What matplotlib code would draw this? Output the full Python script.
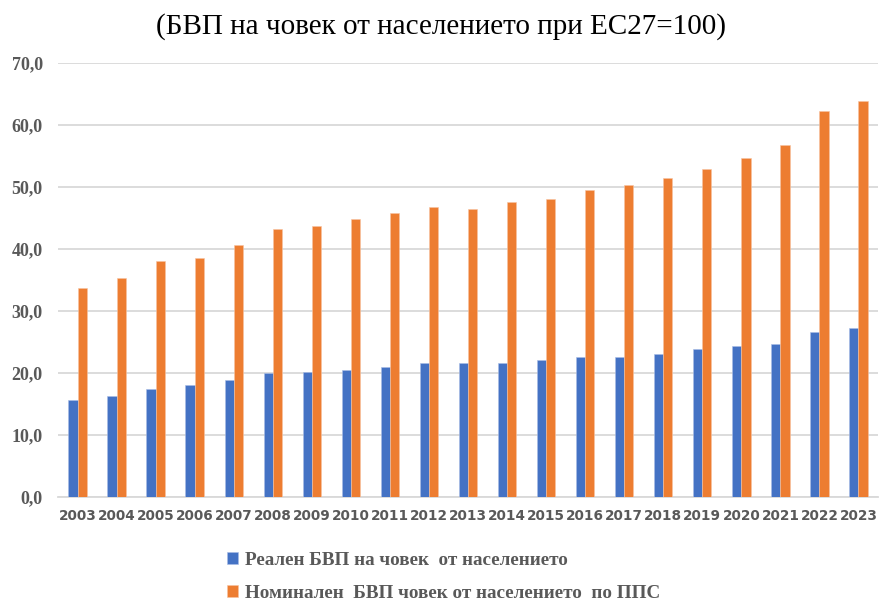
import numpy as np
import matplotlib.pyplot as plt

years = [str(y) for y in range(2003, 2024)]
real_gdp = [15.6, 16.3, 17.3, 18.0, 18.8, 20.0, 20.1, 20.4, 21.0, 21.5, 21.5,
            21.5, 22.0, 22.5, 22.5, 23.0, 23.8, 24.3, 24.7, 26.5, 27.2]
nominal_pps = [33.6, 35.2, 38.0, 38.5, 40.6, 43.2, 43.7, 44.8, 45.7, 46.7, 46.4,
               47.5, 48.0, 49.4, 50.2, 51.4, 52.9, 54.6, 56.7, 62.2, 63.9]
labels = ["Реален БВП на човек  от населението",
          "Номинален  БВП човек от населението  по ППС"]

blue = "#4472C4"
orange = "#ED7D31"
gray = "#595959"
serif = "Liberation Serif"

fig = plt.figure(figsize=(8.81, 6.05), dpi=100)
ax = fig.add_axes([58 / 881, 1 - 496.7 / 605, 820 / 881, (496.7 - 62.7) / 605])

x = np.arange(len(years))
w = 0.235
ax.bar(x - w / 2, real_gdp, w, color=blue, edgecolor="#a9bde6", linewidth=0.4,
       label=labels[0], zorder=3)
ax.bar(x + w / 2, nominal_pps, w, color=orange, edgecolor="#f7c4a2", linewidth=0.4,
       label=labels[1], zorder=3)

ax.set_ylim(0, 70)
ax.set_xlim(-0.5, len(years) - 0.5)
ax.set_yticks(np.arange(0, 71, 10))
ax.set_yticklabels([f"{v:.1f}".replace(".", ",") for v in np.arange(0, 71, 10)],
                   fontfamily=serif, fontweight="bold", fontsize=13, color=gray)
ax.set_xticks(x)
ax.set_xticklabels(years, fontfamily="DejaVu Sans", fontweight="bold",
                   fontsize=9.8, color=gray)
ax.tick_params(axis="both", length=0)
ax.tick_params(axis="y", pad=11)
ax.tick_params(axis="x", pad=9)

ax.grid(axis="y", color="#d9d9d9", linewidth=1.3, zorder=0)
for s in ["top", "right", "left"]:
    ax.spines[s].set_visible(False)
ax.spines["bottom"].set_color("#d9d9d9")
ax.spines["bottom"].set_linewidth(1.3)

fig.text(0.5, 1 - 27 / 605, "(БВП на човек от населението при ЕС27=100)",
         ha="center", va="center", fontfamily=serif, fontsize=21, color="black")

leg = ax.legend(loc="upper left", bbox_to_anchor=(217 / 881, 1 - 542 / 605),
                bbox_transform=fig.transFigure, frameon=False, ncol=1,
                handlelength=0.6, handleheight=0.6, handletextpad=0.35,
                labelspacing=0.85, borderpad=0.0,
                prop={"family": serif, "weight": "bold", "size": 13.8})
for t in leg.get_texts():
    t.set_color(gray)

fig.savefig("out.png", dpi=100)
